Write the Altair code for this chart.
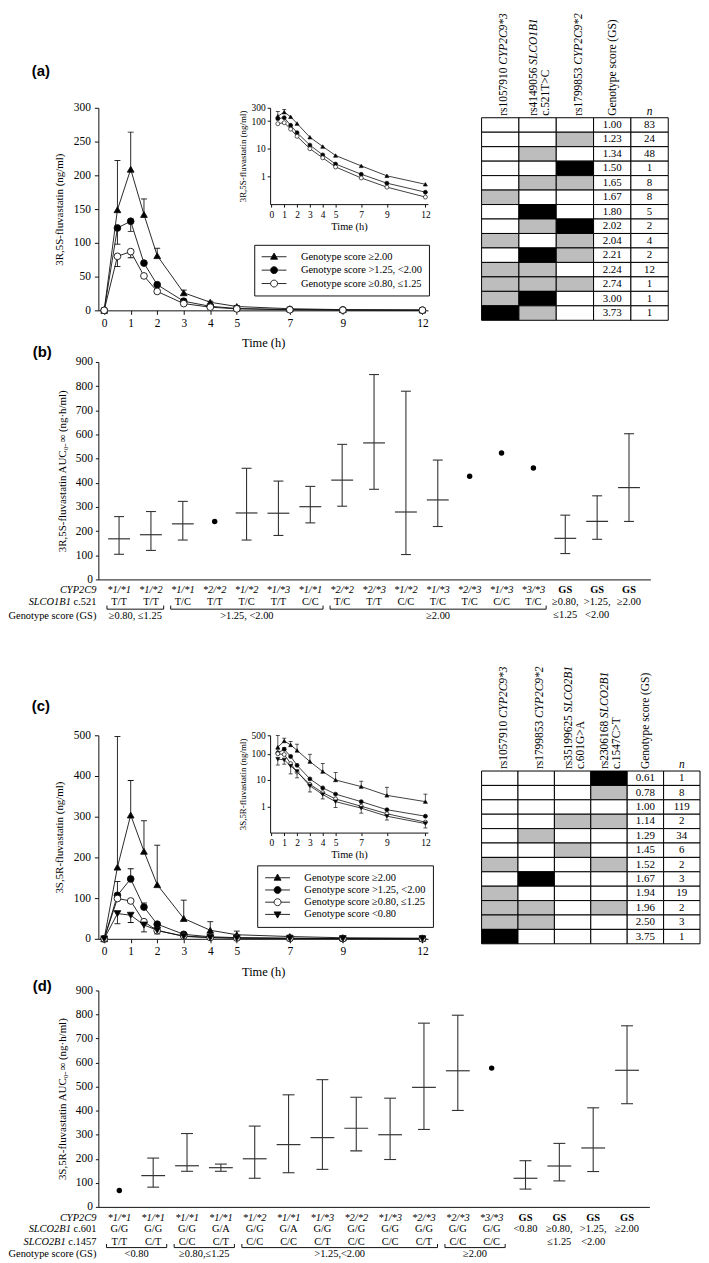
import altair as alt
import pandas as pd

SERIF = "Liberation Serif"
SANS = "Liberation Sans"
INK = "#111111"
BAR = "#333333"

# ------------------------------------------------------------------ PK data
TIMES = [0, 0.5, 1, 1.5, 2, 3, 4, 5, 7, 9, 12]
TIME_TICKS = [0, 1, 2, 3, 4, 5, 7, 9, 12]

GS_HI = "Genotype score ≥2.00"
GS_MID = "Genotype score >1.25, <2.00"
GS_LO = "Genotype score ≥0.80, ≤1.25"
GS_VLO = "Genotype score <0.80"

A_GROUPS = [GS_HI, GS_MID, GS_LO]
A_HI = [0, 149, 209, 142, 81, 26, 12, 5.7, 2.4, 1.05, 0.52]
A_MID = [0, 122, 132, 70, 38, 13.5, 6.0, 2.8, 1.2, 0.57, 0.27]
A_LO = [0, 80, 87, 51, 28, 10, 4.7, 2.2, 0.88, 0.41, 0.18]
A_HI_ERR = [None, 222, 264, 165, 92, 30, 13.5, 7.0, None, None, None]
A_MID_ERR = [None, 98, 117, None, None, None, None, None, None, None, None]
A_LO_ERR = [None, 65, 78, None, None, None, None, None, None, None, None]

C_GROUPS = [GS_HI, GS_MID, GS_LO, GS_VLO]
C_HI = [0, 176, 304, 215, 133, 50, 21, 10, 5.6, 2.6, 1.5]
C_MID = [0, 107, 147, 78, 36, 11, 5.0, 2.9, 1.5, 0.74, 0.42]
C_LO = [0, 99, 93, 42, 20, 6.8, 3.3, 1.9, 1.0, 0.52, 0.25]
C_VLO = [0, 62, 58, 34, 21, 6.0, 2.8, 1.5, 0.85, 0.42, 0.22]
C_HI_ERR = [None, 497, 389, 290, 230, 95, 42, 19, 9.0, 5.3, 2.9]
C_MID_ERR = [None, 141, 172, 88, None, None, None, None, None, None, None]
C_LO_ERR = [None, None, None, None, None, None, None, None, None, None, None]
C_VLO_ERR = [None, 37, 40, 17, 12, 3.5, 1.9, 0.9, 0.55, 0.3, 0.15]

SHAPES = {GS_HI: "triangle-up", GS_MID: "circle", GS_LO: "circle", GS_VLO: "triangle-down"}
FILLS = {GS_HI: "black", GS_MID: "black", GS_LO: "white", GS_VLO: "black"}
LEGEND_PATHS = {
    GS_HI: "M-2.5,0H2.5M0,-0.75L0.7,0.5L-0.7,0.5Z",
    GS_MID: "M-2.5,0H-0.7M0.7,0H2.5M0.7,0A0.7,0.7 0 1,1 -0.7,0A0.7,0.7 0 1,1 0.7,0Z",
    GS_LO: "M-2.5,0H-0.7M0.7,0H2.5M0.7,0A0.7,0.7 0 1,1 -0.7,0A0.7,0.7 0 1,1 0.7,0Z",
    GS_VLO: "M-2.5,0H2.5M0,0.75L0.7,-0.5L-0.7,-0.5Z",
}

# ------------------------------------------------------------------ tables
TA_HEAD = [("rs1057910 ", "CYP2C9*3", ""), ("rs4149056 ", "SLCO1B1", "c.521T>C"),
           ("rs1799853 ", "CYP2C9*2", "")]
TA_GS = ["1.00", "1.23", "1.34", "1.50", "1.65", "1.67", "1.80", "2.02", "2.04", "2.21",
         "2.24", "2.74", "3.00", "3.73"]
TA_N = [83, 24, 48, 1, 8, 8, 5, 2, 4, 2, 12, 1, 1, 1]
TA_CELLS = [[0, 0, 0], [0, 0, 1], [0, 1, 0], [0, 0, 2], [0, 1, 1], [1, 0, 0], [0, 2, 0],
            [0, 1, 2], [1, 0, 1], [0, 2, 1], [1, 1, 0], [1, 1, 1], [1, 2, 0], [2, 1, 0]]

TC_HEAD = [("rs1057910 ", "CYP2C9*3", ""), ("rs1799853 ", "CYP2C9*2", ""),
           ("rs35199625 ", "SLCO2B1", "c.601G>A"), ("rs2306168 ", "SLCO2B1", "c.1547C>T")]
TC_GS = ["0.61", "0.78", "1.00", "1.14", "1.29", "1.45", "1.52", "1.67", "1.94", "1.96",
         "2.50", "3.75"]
TC_N = [1, 8, 119, 2, 34, 6, 2, 3, 19, 2, 3, 1]
TC_CELLS = [[0, 0, 0, 2], [0, 0, 0, 1], [0, 0, 0, 0], [0, 0, 1, 1], [0, 1, 0, 0],
            [0, 0, 1, 0], [1, 0, 0, 1], [0, 2, 0, 0], [1, 0, 0, 0], [1, 1, 0, 1],
            [1, 1, 0, 0], [2, 0, 0, 0]]

# ------------------------------------------------------------------ AUC data
B_CYP = ["*1/*1", "*1/*2", "*1/*1", "*2/*2", "*1/*2", "*1/*3", "*1/*1", "*2/*2", "*2/*3",
         "*1/*2", "*1/*3", "*2/*3", "*1/*3", "*3/*3"]
B_SLCO = ["T/T", "T/T", "T/C", "T/T", "T/C", "T/T", "C/C", "T/C", "T/T", "C/C", "T/C",
          "T/C", "C/C", "T/C"]
B_GS_ROW2 = ["≥0.80,", ">1.25,", "≥2.00"]
B_GS_ROW3 = ["≤1.25", "<2.00", ""]
B_MEAN = [168, 185, 230, 240, 275, 274, 301, 411, 565, 279, 329, 427, 523, 461, 170, 240, 380]
B_LO = [104, 120, 163, None, 163, 182, 234, 303, 373, 103, 219, None, None, None, 107, 166, 240]
B_HI = [260, 281, 323, None, 460, 407, 385, 559, 848, 779, 494, None, None, None, 266, 346, 603]
B_GROUPS = [("≥0.80, ≤1.25", 1, 2), (">1.25, <2.00", 3, 7), ("≥2.00", 8, 14)]

D_CYP = ["*1/*1", "*1/*1", "*1/*1", "*1/*1", "*1/*2", "*1/*1", "*1/*3", "*2/*2", "*1/*3",
         "*2/*3", "*2/*3", "*3/*3"]
D_C601 = ["G/G", "G/G", "G/G", "G/A", "G/G", "G/A", "G/G", "G/G", "G/G", "G/G", "G/G", "G/G"]
D_C1457 = ["T/T", "C/T", "C/C", "C/T", "C/C", "C/C", "C/T", "C/C", "C/C", "C/T", "C/C", "C/C"]
D_GS_ROW2 = ["<0.80", "≥0.80,", ">1.25,", "≥2.00"]
D_GS_ROW3 = ["", "≤1.25", "<2.00", ""]
D_MEAN = [68, 130, 171, 163, 200, 259, 288, 327, 300, 497, 566, 577, 119, 170, 245, 568]
D_LO = [None, 82, 148, 148, 119, 142, 156, 233, 197, 322, 401, None, 74, 108, 147, 429]
D_HI = [None, 203, 305, 178, 336, 466, 529, 456, 452, 764, 797, None, 192, 264, 412, 753]
D_GROUPS = [("<0.80", 1, 2), ("≥0.80,≤1.25", 3, 4), (">1.25,<2.00", 5, 10), ("≥2.00", 11, 12)]

AXIS_FONT = dict(labelFont=SERIF, titleFont=SERIF, titleFontWeight="normal",
                 labelColor="black", titleColor="black", domainColor=INK, tickColor=INK,
                 grid=False)


# ------------------------------------------------------------------ helpers
def rs_width(s, size):
    digits = sum(ch.isdigit() for ch in s)
    return size * (0.333 + 0.389 + 0.5 * digits + 0.25)


def table_group(heads, gs, ns, cells, xrange, yrange):
    keys = [f"c{k}" for k in range(len(heads))] + ["gs", "n"]
    recs = []
    for r, (g, n, cs) in enumerate(zip(gs, ns, cells)):
        for k, v in enumerate(cs):
            recs.append(dict(col=keys[k], row=r, shade=str(v), txt=""))
        recs.append(dict(col="gs", row=r, shade="0", txt=g))
        recs.append(dict(col="n", row=r, shade="0", txt=str(n)))
    d = pd.DataFrame(recs)
    X = alt.X("col:N", scale=alt.Scale(domain=keys, range=xrange, paddingInner=0,
                                       paddingOuter=0), axis=None)
    Y = alt.Y("row:O", scale=alt.Scale(domain=list(range(len(gs))), range=yrange,
                                       paddingInner=0, paddingOuter=0), axis=None)
    rect = alt.Chart(d).mark_rect(stroke="black", strokeWidth=1).encode(
        x=X, y=Y,
        fill=alt.Fill("shade:N", scale=alt.Scale(domain=["0", "1", "2"],
                                                 range=["white", "#bdbdbd", "black"]),
                      legend=None))
    txt = alt.Chart(d[d.txt != ""]).mark_text(font=SERIF, fontSize=11, color="black",
                                              baseline="middle").encode(x=X, y=Y, text="txt:N")
    rowh = (yrange[1] - yrange[0]) / len(gs)
    base = rowh / 2 + 2
    fs = 11.5

    def head(key, t, dx, dy, italic):
        hd = pd.DataFrame({"col": [key], "row": [0], "txt": [t]})
        return alt.Chart(hd).mark_text(angle=270, align="left", baseline="middle", font=SERIF,
                                       fontSize=fs, fontStyle="italic" if italic else "normal",
                                       dx=dx, dy=dy, color="black").encode(x=X, y=Y, text="txt:N")

    layers = [rect, txt]
    for k, (pre, ital, l2) in enumerate(heads):
        dy1 = -4 if l2 else 4
        layers.append(head(keys[k], pre, base, dy1, False))
        layers.append(head(keys[k], ital, base + rs_width(pre, fs), dy1, True))
        if l2:
            layers.append(head(keys[k], l2, base, 8, False))
    layers.append(head("gs", "Genotype score (GS)", base, 1, False))
    nd = pd.DataFrame({"col": ["n"], "row": [0], "txt": ["n"]})
    layers.append(alt.Chart(nd).mark_text(font=SERIF, fontSize=fs, fontStyle="italic",
                                          baseline="middle", dy=-(rowh / 2 + 6),
                                          color="black").encode(x=X, y=Y, text="txt:N"))
    return alt.layer(*layers)


def pk_panel(groups, series, errs, ymax, yticks, ytitle, hplot, panel, panel_pos,
             leg_xy, leg_pad, leg_rowpad, inset_dom, inset_ticks, inset_yrange,
             inset_err_groups, inset_err_times, table):
    rows, erows = [], []
    for g in groups:
        for t, v, e in zip(TIMES, series[g], errs[g]):
            rows.append(dict(t=t, v=v, g=g))
            if e is not None:
                erows.append(dict(t=t, v=v, e=e, g=g))
    df = pd.DataFrame(rows)
    edf = pd.DataFrame(erows)

    xs = alt.Scale(domain=[-0.22, 12.21], nice=False, zero=False)
    xa = alt.Axis(values=TIME_TICKS, title="Time (h)", labelFlush=False, labelOverlap=False,
                  tickSize=4, labelPadding=3, labelFontSize=11.5, titleFontSize=12.5,
                  titlePadding=8, **AXIS_FONT)
    ys = alt.Scale(domain=[0, ymax], nice=False, zero=False)
    ya = alt.Axis(values=yticks, title=ytitle, tickSize=4, labelPadding=4, labelFontSize=11.5,
                  titleFontSize=11, titlePadding=9, **AXIS_FONT)

    def X(f):
        return alt.X(f"{f}:Q", scale=xs, axis=xa)

    def Y(f):
        return alt.Y(f"{f}:Q", scale=ys, axis=ya)

    shp = alt.Scale(domain=groups, range=[SHAPES[g] for g in groups])
    fil = alt.Scale(domain=groups, range=[FILLS[g] for g in groups])

    err_rule = alt.Chart(edf).mark_rule(color=INK, strokeWidth=0.9).encode(
        x=X("t"), y=Y("v"), y2=alt.Y2("e"))
    err_cap = alt.Chart(edf).mark_tick(orient="horizontal", size=6, thickness=0.9, color=INK,
                                       opacity=1).encode(x=X("t"), y=Y("e"))
    line = alt.Chart(df).mark_line(color=INK, strokeWidth=0.9).encode(
        x=X("t"), y=Y("v"), detail="g:N")
    pts = alt.Chart(df).mark_point(opacity=1, size=46, stroke=INK, strokeWidth=0.9).encode(
        x=X("t"), y=Y("v"),
        shape=alt.Shape("g:N", scale=shp, legend=None),
        fill=alt.Fill("g:N", scale=fil, legend=None))

    leg = alt.Legend(title=None, orient="none", legendX=leg_xy[0], legendY=leg_xy[1],
                     padding=leg_pad, rowPadding=leg_rowpad, strokeColor=INK,
                     fillColor="white", symbolSize=100, symbolStrokeWidth=0.9,
                     symbolStrokeColor=INK, symbolOffset=8, labelOffset=21.5,
                     labelFont=SERIF, labelFontSize=10.5, labelColor="black")
    lg_df = pd.DataFrame({"lg": groups, "keep": [0] * len(groups)})
    legend_layer = alt.Chart(lg_df).transform_filter("datum.keep == 1").mark_point(
        opacity=1, strokeWidth=0.9).encode(
        shape=alt.Shape("lg:N", scale=alt.Scale(domain=groups,
                                                range=[LEGEND_PATHS[g] for g in groups]),
                        legend=leg),
        fill=alt.Fill("lg:N", scale=alt.Scale(domain=groups, range=[FILLS[g] for g in groups]),
                      legend=leg),
        stroke=alt.Stroke("lg:N", scale=alt.Scale(domain=groups, range=[INK] * len(groups)),
                          legend=leg))
    lab = alt.Chart(pd.DataFrame({"t": [panel_pos[0]], "v": [panel_pos[1]], "lab": [panel]})
                    ).mark_text(font=SANS, fontSize=15, fontWeight="bold", align="left",
                                baseline="middle", color="black").encode(
        x=X("t"), y=Y("v"), text="lab:N")
    main = alt.layer(err_rule, err_cap, line, pts, legend_layer, lab).resolve_scale(
        shape="independent", fill="independent", stroke="independent")

    # inset (log scale)
    idf = df[df.t > 0]
    iedf = edf[(edf.t.isin(inset_err_times)) & (edf.g.isin(inset_err_groups))]
    ixs = alt.Scale(domain=[-0.1, 12.2], range=[173, 332], nice=False, zero=False)
    ixa = alt.Axis(orient="bottom", offset=-(hplot - inset_yrange[0]), values=TIME_TICKS,
                   title="Time (h)", labelFlush=False, labelOverlap=False, tickSize=3,
                   labelPadding=2, labelFontSize=9.5, titleFontSize=10.5, titlePadding=3,
                   **AXIS_FONT)
    iys = alt.Scale(type="log", domain=inset_dom, range=inset_yrange, nice=False)
    iya = alt.Axis(orient="left", offset=-173, values=inset_ticks, format="d", title=ytitle,
                   tickSize=3, labelPadding=2, labelFontSize=9.5, titleFontSize=9,
                   titlePadding=4, **AXIS_FONT)

    def IX(f):
        return alt.X(f"{f}:Q", scale=ixs, axis=ixa)

    def IY(f):
        return alt.Y(f"{f}:Q", scale=iys, axis=iya)

    i_rule = alt.Chart(iedf).mark_rule(color=INK, strokeWidth=0.7).encode(
        x=IX("t"), y=IY("v"), y2=alt.Y2("e"))
    i_cap = alt.Chart(iedf).mark_tick(orient="horizontal", size=4, thickness=0.7, color=INK,
                                      opacity=1).encode(x=IX("t"), y=IY("e"))
    i_line = alt.Chart(idf).mark_line(color=INK, strokeWidth=0.8).encode(
        x=IX("t"), y=IY("v"), detail="g:N")
    i_pts = alt.Chart(idf).mark_point(opacity=1, size=16, stroke=INK, strokeWidth=0.7).encode(
        x=IX("t"), y=IY("v"),
        shape=alt.Shape("g:N", scale=shp, legend=None),
        fill=alt.Fill("g:N", scale=fil, legend=None))
    inset = alt.layer(i_rule, i_cap, i_line, i_pts)

    return alt.layer(main, inset, table).resolve_scale(
        x="independent", y="independent", shape="independent", fill="independent",
        stroke="independent"
    ).properties(width=332, height=hplot)


def auc_panel(mean, lo, hi, xdom, width, hplot, htotal, ytitle, cap_w, mean_w,
              rows_dom, rows_range, italic_items, bold_items, plain_items, left_italic,
              left_plain, brackets, bracket_r, group_r, panel, panel_pos):
    n = len(mean)
    df = pd.DataFrame({"i": list(range(1, n + 1)), "m": mean, "lo": lo, "hi": hi})
    bars = df[df["lo"].notna()]
    pts = df[df["lo"].isna()]
    xs = alt.Scale(domain=xdom, nice=False, zero=False)
    xa = alt.Axis(orient="bottom", offset=hplot - htotal, labels=False, ticks=False,
                  title=None, **AXIS_FONT)
    ys = alt.Scale(domain=[0, 900], range=[hplot, 0], nice=False, zero=False)
    ya = alt.Axis(values=list(range(0, 901, 100)), title=ytitle, tickSize=3, labelPadding=3,
                  labelFontSize=11.5, titleFontSize=11, titlePadding=8, **AXIS_FONT)

    def X(f):
        return alt.X(f"{f}:Q", scale=xs, axis=xa)

    def Y(f):
        return alt.Y(f"{f}:Q", scale=ys, axis=ya)

    rule = alt.Chart(bars).mark_rule(color=BAR, strokeWidth=1.1).encode(
        x=X("i"), y=Y("lo"), y2=alt.Y2("hi"))
    cap_lo = alt.Chart(bars).mark_tick(orient="horizontal", size=cap_w, thickness=1.1,
                                       color=BAR, opacity=1).encode(x=X("i"), y=Y("lo"))
    cap_hi = alt.Chart(bars).mark_tick(orient="horizontal", size=cap_w, thickness=1.1,
                                       color=BAR, opacity=1).encode(x=X("i"), y=Y("hi"))
    mid = alt.Chart(bars).mark_tick(orient="horizontal", size=mean_w, thickness=1.2,
                                    color=BAR, opacity=1).encode(x=X("i"), y=Y("m"))
    dots = alt.Chart(pts).mark_circle(size=30, color="black", opacity=1).encode(
        x=X("i"), y=Y("m"))
    lab = alt.Chart(pd.DataFrame({"i": [panel_pos[0]], "m": [panel_pos[1]], "lab": [panel]})
                    ).mark_text(font=SANS, fontSize=15, fontWeight="bold", align="left",
                                baseline="middle", color="black").encode(
        x=X("i"), y=Y("m"), text="lab:N")
    plot = alt.layer(rule, cap_lo, cap_hi, mid, dots, lab)

    rs = alt.Scale(domain=rows_dom, range=rows_range, nice=False, zero=False)

    def R(f):
        return alt.Y(f"{f}:Q", scale=rs, axis=None)

    def tl(items, **style):
        d = pd.DataFrame(items, columns=["i", "r", "lab"])
        d = d[d["lab"] != ""]
        return alt.Chart(d).mark_text(font=SERIF, fontSize=10.5, color="black",
                                      baseline="middle", **style).encode(
            x=X("i"), y=R("r"), text="lab:N")

    x0 = xdom[0]
    layers = [tl(italic_items, fontStyle="italic"), tl(bold_items, fontWeight="bold"),
              tl(plain_items)]
    for (r, t, dx) in left_italic:
        layers.append(tl([(x0, r, t)], fontStyle="italic", align="right", dx=dx))
    for (r, t, dx) in left_plain:
        layers.append(tl([(x0, r, t)], align="right", dx=dx))

    br = pd.DataFrame([dict(x1=s - 0.38, x2=e + 0.4, r=bracket_r) for (_, s, e) in brackets])
    ends = pd.DataFrame([dict(x=x, r=bracket_r, r2=bracket_r - 0.3)
                         for (_, s, e) in brackets for x in (s - 0.38, e + 0.4)])
    layers.append(alt.Chart(br).mark_rule(color=INK, strokeWidth=1).encode(
        x=X("x1"), x2=alt.X2("x2"), y=R("r")))
    layers.append(alt.Chart(ends).mark_rule(color=INK, strokeWidth=1).encode(
        x=X("x"), y=R("r"), y2=alt.Y2("r2")))
    layers.append(tl([((s - 0.38 + e + 0.4) / 2, group_r, t) for (t, s, e) in brackets]))
    labels = alt.layer(*layers)

    return alt.layer(plot, labels).resolve_scale(y="independent").properties(
        width=width, height=htotal)


# ------------------------------------------------------------------ panel (a)
tab_a = table_group(TA_HEAD, TA_GS, TA_N, TA_CELLS, [386, 574], [10, 214])
chart_a = pk_panel(
    A_GROUPS, {GS_HI: A_HI, GS_MID: A_MID, GS_LO: A_LO},
    {GS_HI: A_HI_ERR, GS_MID: A_MID_ERR, GS_LO: A_LO_ERR},
    300, [0, 50, 100, 150, 200, 250, 300], "3R,5S-fluvastatin (ng/ml)", 204,
    "(a)", (-2.73, 354), (157, 138), 6.5, 2.5,
    [0.1, 300], [1, 10, 100, 300], [97, 0], [GS_HI], [0.5, 1], tab_a)

# ------------------------------------------------------------------ panel (b)
b_ital = [(k + 1, 1, t) for k, t in enumerate(B_CYP)]
b_bold = [(15 + k, 1, "GS") for k in range(3)]
b_plain = ([(k + 1, 2, t) for k, t in enumerate(B_SLCO)]
           + [(15 + k, 2, t) for k, t in enumerate(B_GS_ROW2)]
           + [(15 + k, 3.05, t) for k, t in enumerate(B_GS_ROW3)])
chart_b = auc_panel(
    B_MEAN, B_LO, B_HI, [0.35, 17.67], 556, 219, 324,
    "3R,5S-fluvastatin AUC₀₋∞ (ng·h/ml)", 10, 22,
    [0, 4], [218, 266], b_ital, b_bold, b_plain,
    [(1, "CYP2C9", -2), (2, "SLCO1B1", -27.7)],
    [(2, "c.521", -2), (3.15, "Genotype score (GS)", -2)],
    B_GROUPS, 2.58, 3.15, "(b)", (-1.71, 941))

# ------------------------------------------------------------------ panel (c)
tab_c = table_group(TC_HEAD, TC_GS, TC_N, TC_CELLS, [386, 606], [36, 210])
chart_c = pk_panel(
    C_GROUPS, {GS_HI: C_HI, GS_MID: C_MID, GS_LO: C_LO, GS_VLO: C_VLO},
    {GS_HI: C_HI_ERR, GS_MID: C_MID_ERR, GS_LO: C_LO_ERR, GS_VLO: C_VLO_ERR},
    500, [0, 100, 200, 300, 400, 500], "3S,5R-fluvastatin (ng/ml)", 205,
    "(c)", (-2.73, 571), (160, 131), 7, 1.3,
    [0.1, 500], [1, 10, 100, 500], [98, 0], C_GROUPS, TIMES[1:], tab_c)

# ------------------------------------------------------------------ panel (d)
d_ital = [(k + 1, 1, t) for k, t in enumerate(D_CYP)]
d_bold = [(13 + k, 1, "GS") for k in range(4)]
d_plain = ([(k + 1, 1.95, t) for k, t in enumerate(D_C601)]
           + [(k + 1, 3, t) for k, t in enumerate(D_C1457)]
           + [(13 + k, 1.95, t) for k, t in enumerate(D_GS_ROW2)]
           + [(13 + k, 3, t) for k, t in enumerate(D_GS_ROW3)])
chart_d = auc_panel(
    D_MEAN, D_LO, D_HI, [0.38, 16.66], 555, 218, 218,
    "3S,5R-fluvastatin AUC₀₋∞ (ng·h/ml)", 12, 24,
    [0, 5], [217, 277], d_ital, d_bold, d_plain,
    [(1, "CYP2C9", -2), (1.95, "SLCO2B1", -27.7), (3, "SLCO2B1", -32.9)],
    [(1.95, "c.601", -2), (3, "c.1457", -2), (4.05, "Genotype score (GS)", -2)],
    D_GROUPS, 3.5, 4.05, "(d)", (-1.56, 920))

chart = alt.vconcat(chart_a, chart_b, chart_c, chart_d, spacing=52, bounds="flush").resolve_scale(
    shape="independent", fill="independent", stroke="independent"
).properties(padding=0, background="white").configure_view(stroke=None).configure_axis(
    labelFont=SERIF, titleFont=SERIF, labelColor="black", titleColor="black",
    domainColor=INK, tickColor=INK, titleFontWeight="normal", grid=False
).configure_legend(labelFont=SERIF, labelColor="black")

chart.save("out.html", embed_options={"renderer": "svg", "actions": False})
